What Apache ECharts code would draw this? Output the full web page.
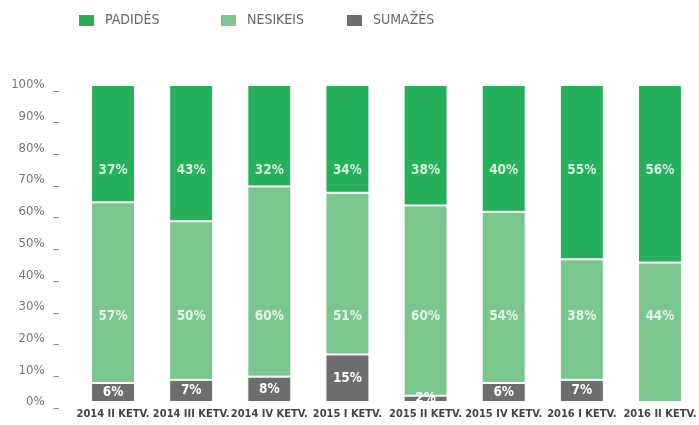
<!DOCTYPE html>
<html><head><meta charset="utf-8">
<script src="https://cdn.jsdelivr.net/npm/echarts@6/dist/echarts.min.js"></script>
<style>html,body{margin:0;padding:0;background:#fff}#c{width:699px;height:425px}</style>
</head><body><div id="c"></div>
<script>
const categories = ['2014 II KETV.','2014 III KETV.','2014 IV KETV.','2015 I KETV.','2015 II KETV.','2015 IV KETV.','2016 I KETV.','2016 II KETV.'];
const sumazes = [6,7,8,15,2,6,7,0];
const nesikeis = [57,50,60,51,60,54,38,44];
const padides = [37,43,32,34,38,40,55,56];
const yTicks = [0,10,20,30,40,50,60,70,80,90,100];

const font = "'DejaVu Sans Condensed', sans-serif";
const TOP_LABEL_LEVEL = 73, MID_LABEL_LEVEL = 27;
const chart = echarts.init(document.getElementById('c'));
const lblStyle = {color:'#fff', fontFamily:font, fontWeight:'bold', fontSize:13.5};
const legendBase = {top:13, padding:0, itemWidth:17, itemHeight:13, itemGap:0, icon:'rect',
  textStyle:{color:'#666', fontFamily:font, fontSize:14, padding:[0,0,0,5]}};
const labelSeries = (name, vals, level) => ({
  name, type:'scatter', symbolSize:0, silent:true, z:5,
  data: vals.map((v, i) => ({value:[i, level], label:{formatter: v + '%'}})),
  label:Object.assign({show:true, position:'inside'}, lblStyle)
});
chart.setOption({
  animation:false,
  legend:[
    Object.assign({left:77, data:['PADIDĖS']}, legendBase),
    Object.assign({left:219, data:['NESIKEIS']}, legendBase),
    Object.assign({left:345, data:['SUMAŽĖS']}, legendBase)
  ],
  grid:{left:74, width:634, top:85, bottom:23},
  xAxis:{type:'category', data:categories, axisLine:{show:false}, axisTick:{show:false},
    axisLabel:{color:'#444', fontFamily:font, fontSize:11, fontWeight:'bold', margin:7, interval:0}},
  yAxis:{type:'value', min:0, max:100, interval:10, axisLine:{show:false}, axisTick:{show:false}, splitLine:{show:false},
    axisLabel:{margin:15, formatter: v => '{a|' + v + '%}{b|_}',
      rich:{a:{color:'#777', fontSize:13, fontFamily:font, width:32, align:'right'}, b:{color:'#777', fontSize:12, fontFamily:font, padding:[0,0,0,9], verticalAlign:'bottom'}}}},
  series:[
    {name:'SUMAŽĖS', type:'bar', stack:'s', data:sumazes, barWidth:44, itemStyle:{color:'#6d6d6f', borderColor:'#fff', borderWidth:1},
      label:Object.assign({show:true, position:'inside', formatter: p => p.value > 0 ? p.value + '%' : ''}, lblStyle)},
    {name:'NESIKEIS', type:'bar', stack:'s', data:nesikeis, barWidth:44, itemStyle:{color:'#7bc68e', borderColor:'#fff', borderWidth:1}},
    {name:'PADIDĖS', type:'bar', stack:'s', data:padides, barWidth:44, itemStyle:{color:'#27b05c', borderColor:'#fff', borderWidth:1}},
    labelSeries('NESIKEIS_L', nesikeis, MID_LABEL_LEVEL),
    labelSeries('PADIDĖS_L', padides, TOP_LABEL_LEVEL)
  ]
});
</script></body></html>
